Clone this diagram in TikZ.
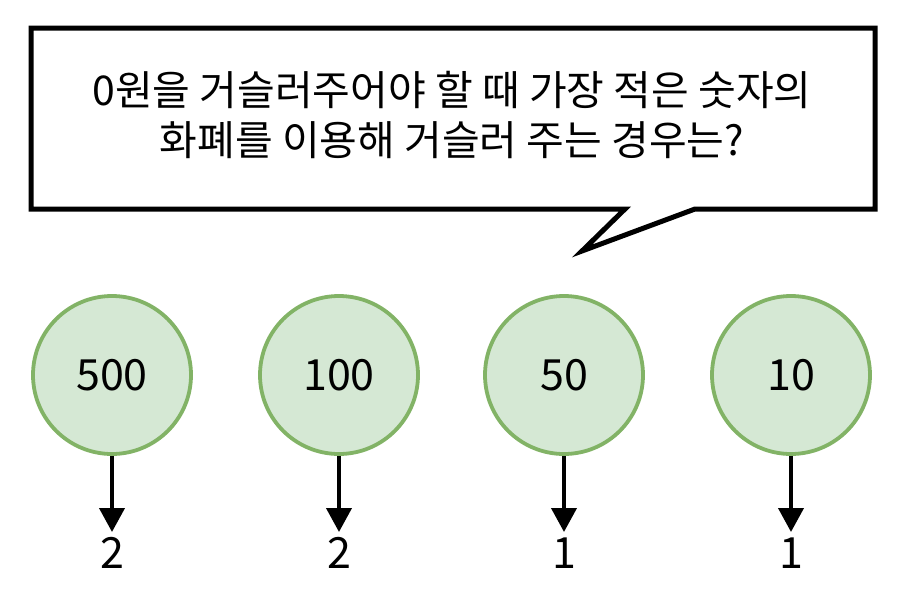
\documentclass[tikz,border=0pt]{standalone}
\usepackage{fontspec}
\setmainfont{Noto Sans CJK KR}
\usetikzlibrary{arrows.meta}
\definecolor{cfill}{HTML}{D5E8D4}
\definecolor{cline}{HTML}{82B366}
\tikzset{
  coin/.style={circle, draw=cline, fill=cfill, line width=3.8pt, minimum size=158pt, inner sep=0pt, font=\fontsize{43}{43}\selectfont},
  cnt/.style={inner sep=0pt, font=\fontsize{43}{43}\selectfont},
  arr/.style={line width=4pt, -{Triangle[length=24pt,width=25pt]}},
  bubble/.style={draw=black, line width=5pt, fill=white, line join=miter}
}
\begin{document}
\begin{tikzpicture}[x=1pt,y=-1pt]
\useasboundingbox (0,0) rectangle (908,600);
\draw[bubble] (31,28) -- (875,28) -- (875,209) -- (695,209) -- (582,251) -- (625,209) -- (31,209) -- cycle;
\node[align=center, font=\fontsize{41}{50}\selectfont, inner sep=0pt] (q) at (452,115) {0원을 거슬러주어야 할 때 가장 적은 숫자의\\화폐를 이용해 거슬러 주는 경우는?};
\foreach \n/\x/\c in {a/112/500, b/339/100, c/564/50, d/791/10}{
  \node[coin] (\n) at (\x,375) {\c};
}
\node[cnt] (na) at (112,553) {2};
\node[cnt] (nb) at (339,553) {2};
\node[cnt] (nc) at (564,553) {1};
\node[cnt] (nd) at (791,553) {1};
\foreach \n in {a,b,c,d}{
  \draw[arr] (\n.south) -- ([yshift=21pt]n\n.center);
}
\end{tikzpicture}
\end{document}
